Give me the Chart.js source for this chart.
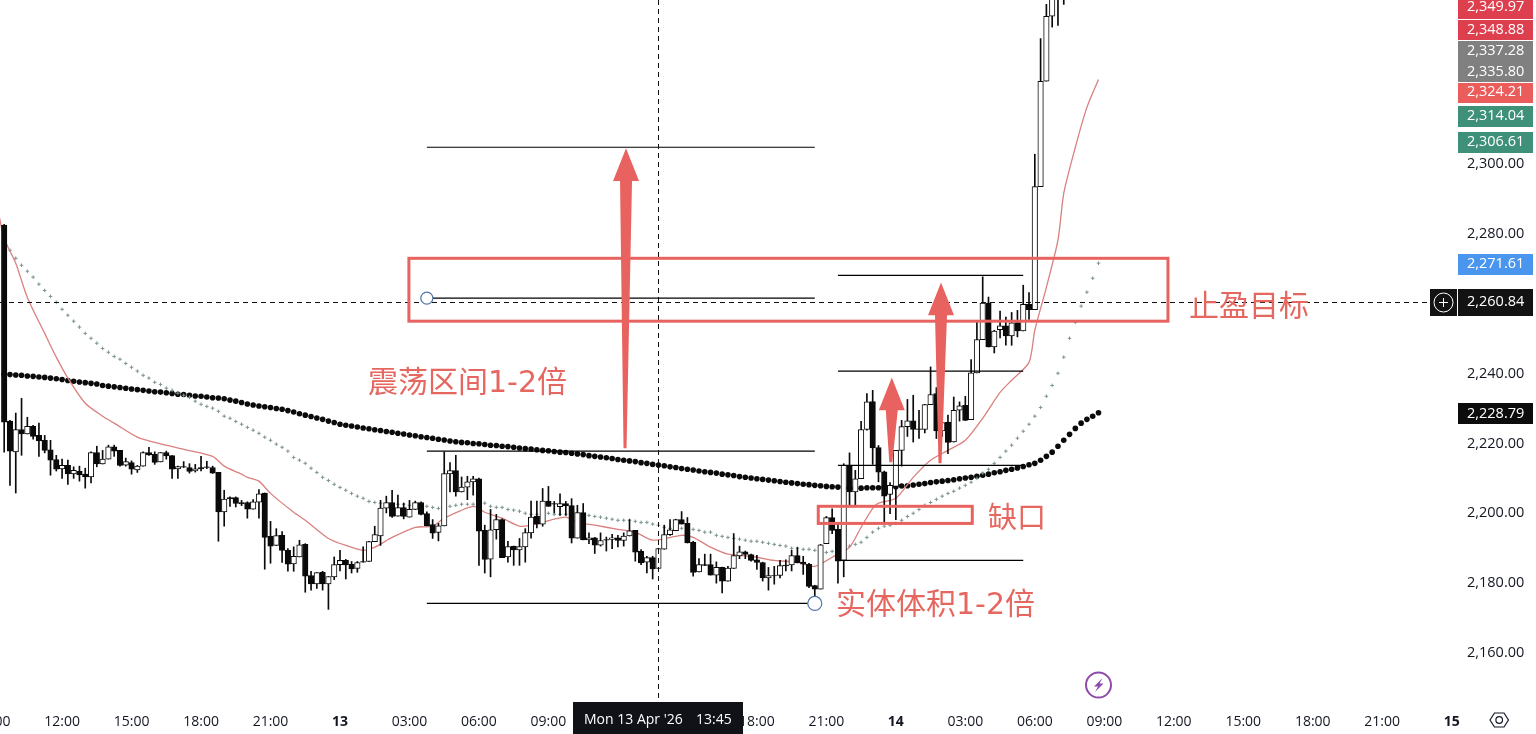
<!DOCTYPE html>
<html>
<head>
<meta charset="utf-8">
<title>ETH 15m</title>
<script src="https://cdn.jsdelivr.net/npm/chart.js@4.4.1/dist/chart.umd.min.js"></script>
<style>
  html, body { margin: 0; padding: 0; background: #fff; overflow: hidden; width: 1536px; height: 734px; }
  #wrap { position: absolute; left: -40px; top: 0; width: 1576px; height: 734px; }
</style>
</head>
<body>
<div id="wrap"><canvas id="chart" width="1576" height="734"></canvas></div>
<script>
// candles are numbered from 13 Apr 00:00, one step = 15 min
const firstCandle = -58;
const opens = [
  2282.5,2226.4,2217.6,2224.0,2222.7,2224.9,2222.3,2220.9,2218.2,2215.4,
  2212.7,2213.7,2211.3,2212.0,2211.2,2210.4,2217.4,2214.1,2215.5,2219.0,
  2218.0,2213.8,2214.5,2212.4,2213.5,2217.4,2216.9,2214.7,2217.4,2216.5,
  2212.7,2213.4,2213.1,2212.1,2213.1,2213.3,2213.1,2211.7,2200.4,2204.5,
  2204.5,2203.1,2203.1,2201.2,2203.2,2205.8,2193.4,2190.8,2193.7,2189.4,
  2185.5,2187.5,2191.1,2182.2,2179.8,2183.1,2179.8,2181.8,2185.3,2186.5,
  2185.4,2184.2,2186.2,2186.2,2191.9,2193.5,2201.5,2203.1,2199.2,2201.6,
  2198.9,2201.1,2203.1,2199.9,2196.8,2194.5,2196.4,2211.3,2212.2,2206.1,
  2207.5,2209.0,2209.9,2195.1,2186.9,2195.3,2198.2,2187.5,2190.6,2189.5,
  2190.4,2194.4,2199.1,2196.9,2203.5,2202.8,2201.9,2202.8,2202.2,2192.9,
  2200.2,2192.4,2193.0,2190.9,2192.5,2192.5,2193.0,2192.2,2193.5,2195.1,
  2189.1,2186.0,2187.3,2184.2,2189.7,2193.9,2195.0,2198.2,2197.1,2191.7,
  2183.2,2185.3,2185.3,2182.3,2184.5,2180.6,2184.2,2187.8,2189.0,2188.2,
  2186.7,2185.9,2181.5,2182.2,2182.2,2185.2,2185.2,2187.9,2186.0,2185.4,
  2179.3,2178.3,2191.3,2198.8,2195.4,2186.5,2213.7,2206.1,2209.9,2224.0,
  2232.0,2218.8,2211.9,2205.4,2207.7,2218.0,2224.8,2226.5,2224.2,2224.0,
  2231.1,2234.3,2223.6,2226.1,2220.4,2229.5,2230.9,2226.8,2240.2,2249.7,
  2260.2,2247.6,2252.6,2253.7,2250.8,2254.6,2252.2,2259.8,2258.3,2293.5,
  2323.7,2342.3,2348.0,2350.0
];
const closes = [
  2226.1,2217.8,2224.0,2222.7,2224.9,2222.0,2220.7,2218.0,2215.2,2212.6,
  2213.7,2211.3,2212.3,2211.0,2210.4,2217.4,2214.1,2215.5,2219.0,2217.8,
  2213.7,2214.8,2212.6,2213.5,2217.4,2216.7,2214.6,2217.4,2216.4,2212.6,
  2213.4,2213.2,2212.0,2212.7,2212.7,2213.1,2211.5,2200.4,2204.1,2204.1,
  2202.8,2202.7,2201.2,2203.3,2205.6,2193.1,2190.6,2193.6,2189.4,2185.4,
  2187.7,2191.0,2182.0,2179.8,2183.0,2179.8,2181.9,2185.3,2186.5,2185.2,
  2184.1,2185.9,2186.0,2191.9,2193.9,2201.5,2203.1,2199.1,2201.6,2199.1,
  2201.1,2203.1,2199.7,2196.4,2194.3,2196.4,2211.4,2212.2,2206.1,2207.5,
  2209.0,2209.9,2194.9,2186.8,2195.3,2198.2,2187.3,2190.5,2189.5,2190.5,
  2194.5,2198.9,2196.9,2203.5,2202.0,2202.6,2202.8,2202.1,2192.9,2200.2,
  2192.4,2193.0,2190.9,2192.2,2192.3,2193.0,2192.2,2193.5,2195.0,2188.9,
  2185.8,2187.3,2184.1,2189.9,2193.9,2195.3,2198.2,2196.9,2191.5,2183.1,
  2185.3,2185.1,2182.3,2184.5,2180.6,2184.3,2187.9,2189.0,2188.2,2186.5,
  2185.9,2181.5,2182.2,2182.1,2185.0,2184.9,2187.9,2185.8,2185.4,2179.1,
  2178.3,2191.0,2198.8,2195.1,2186.3,2213.7,2206.1,2209.9,2224.0,2231.9,
  2218.7,2211.8,2204.9,2208.0,2218.0,2224.8,2226.5,2224.0,2224.0,2231.1,
  2234.0,2223.6,2226.0,2220.3,2229.5,2230.8,2226.6,2240.2,2249.7,2260.2,
  2247.6,2252.2,2253.7,2250.8,2254.5,2252.2,2259.8,2258.3,2293.5,2323.7,
  2342.3,2350.0,2352.0,2352.0
];
const highs = [
  2282.7,2226.6,2228.7,2232.9,2227.5,2225.2,2225.8,2222.3,2220.9,2216.6,
  2215.5,2215.2,2213.3,2213.5,2212.9,2217.6,2219.2,2218.0,2219.5,2219.5,
  2218.0,2215.8,2215.0,2213.7,2217.6,2218.9,2217.6,2217.4,2217.8,2216.5,
  2213.5,2214.8,2214.2,2214.0,2216.3,2214.9,2213.5,2211.7,2206.6,2204.7,
  2204.7,2203.7,2203.3,2203.9,2206.8,2205.8,2197.7,2195.6,2194.8,2189.9,
  2190.4,2192.3,2191.3,2183.4,2183.0,2183.4,2181.9,2187.5,2189.4,2186.8,
  2186.2,2186.2,2190.4,2192.0,2196.3,2203.7,2204.9,2206.6,2205.2,2202.9,
  2203.7,2203.5,2203.3,2200.4,2198.2,2197.1,2217.6,2214.5,2216.6,2210.4,
  2210.6,2210.6,2210.1,2196.6,2201.1,2199.7,2198.4,2192.0,2190.6,2192.8,
  2195.6,2203.5,2203.5,2207.1,2207.7,2203.4,2205.6,2203.4,2204.2,2202.3,
  2202.8,2194.4,2193.1,2194.4,2193.2,2194.0,2193.7,2194.4,2198.2,2195.1,
  2189.6,2187.7,2187.7,2190.0,2196.6,2198.2,2198.3,2200.5,2198.8,2192.0,
  2187.0,2188.3,2188.3,2186.1,2184.6,2184.8,2194.2,2190.6,2189.2,2188.3,
  2188.0,2186.0,2184.5,2184.8,2186.5,2186.7,2189.4,2190.2,2187.7,2185.7,
  2179.4,2191.1,2199.1,2201.3,2197.1,2214.2,2217.3,2212.3,2226.3,2234.3,
  2235.2,2219.4,2212.1,2208.8,2218.0,2226.6,2232.6,2233.8,2229.5,2231.2,
  2241.9,2236.0,2227.0,2228.1,2233.3,2231.9,2233.5,2244.0,2254.8,2267.7,
  2261.9,2252.4,2257.9,2256.2,2257.5,2258.1,2265.3,2263.2,2302.8,2335.9,
  2345.7,2352.0,2355.0,2353.0
];
const lows = [
  2217.5,2208.0,2205.8,2216.6,2222.7,2221.2,2216.3,2217.3,2210.9,2212.1,
  2210.0,2208.3,2210.0,2209.2,2207.2,2208.7,2213.3,2214.1,2215.5,2216.3,
  2213.5,2213.5,2211.2,2211.7,2213.5,2216.6,2214.0,2214.7,2215.5,2210.0,
  2210.0,2213.1,2211.5,2211.8,2212.1,2212.8,2211.4,2192.0,2196.3,2202.0,
  2201.8,2202.2,2198.6,2201.2,2198.6,2184.0,2185.7,2190.8,2185.9,2183.4,
  2183.4,2187.5,2177.4,2178.0,2178.5,2178.0,2172.5,2181.0,2183.5,2181.2,
  2182.9,2183.1,2186.0,2186.2,2191.9,2190.8,2200.1,2198.8,2199.2,2198.4,
  2198.9,2201.1,2199.5,2196.4,2192.8,2192.1,2196.4,2206.1,2204.9,2206.1,
  2203.9,2205.2,2185.1,2182.9,2181.8,2192.6,2187.3,2186.0,2185.1,2185.1,
  2186.0,2192.9,2195.8,2196.3,2202.0,2200.1,2199.4,2199.4,2191.5,2192.9,
  2192.4,2191.3,2188.5,2190.6,2189.2,2189.9,2190.4,2190.6,2193.5,2186.3,
  2185.3,2182.9,2181.2,2184.2,2189.7,2193.7,2195.0,2196.9,2191.5,2182.0,
  2183.2,2185.0,2182.3,2180.0,2177.2,2180.6,2184.2,2187.0,2187.0,2186.3,
  2183.9,2180.6,2178.0,2179.7,2181.5,2183.5,2183.5,2185.8,2182.5,2178.7,
  2176.2,2178.3,2191.3,2194.2,2180.0,2181.8,2202.3,2202.3,2209.9,2223.8,
  2214.0,2209.0,2197.5,2199.9,2198.2,2213.5,2222.0,2220.4,2221.4,2223.0,
  2231.1,2221.4,2222.0,2217.1,2220.4,2226.4,2226.6,2226.8,2240.2,2249.7,
  2247.6,2245.9,2250.2,2248.1,2248.1,2250.5,2252.2,2255.5,2258.3,2293.5,
  2323.7,2339.2,2339.7,2345.7
];

// thick black dotted average, one dot per candle, runs on past the last candle
const slowFirst = -58;
const slowMa = [
  2239.8,2239.7,2239.6,2239.5,2239.3,2239.2,2239.0,2238.9,2238.7,2238.5,
  2238.3,2238.0,2237.8,2237.6,2237.4,2237.2,2237.0,2236.6,2236.4,2236.2,
  2236.0,2235.8,2235.6,2235.4,2235.2,2235.0,2234.8,2234.7,2234.5,2234.3,
  2234.1,2234.0,2233.8,2233.6,2233.5,2233.3,2233.1,2233.0,2232.8,2232.4,
  2232.1,2231.7,2231.3,2231.0,2230.7,2230.5,2230.3,2230.0,2229.8,2229.4,
  2229.0,2228.5,2228.1,2227.7,2227.3,2226.9,2226.4,2226.0,2225.5,2225.2,
  2225.0,2224.7,2224.4,2224.2,2223.9,2223.7,2223.4,2223.2,2222.9,2222.7,
  2222.4,2222.2,2221.9,2221.7,2221.5,2221.2,2221.0,2220.7,2220.5,2220.3,
  2220.2,2220.0,2219.9,2219.7,2219.5,2219.4,2219.2,2219.1,2218.9,2218.7,
  2218.5,2218.4,2218.2,2218.0,2217.9,2217.7,2217.5,2217.4,2217.2,2217.0,
  2216.8,2216.5,2216.3,2216.1,2215.9,2215.7,2215.4,2215.2,2215.0,2214.8,
  2214.5,2214.3,2214.0,2213.8,2213.6,2213.3,2213.1,2212.8,2212.6,2212.4,
  2212.1,2211.9,2211.7,2211.5,2211.2,2211.0,2210.8,2210.5,2210.3,2210.1,
  2209.9,2209.7,2209.5,2209.3,2209.1,2208.9,2208.7,2208.5,2208.3,2208.2,
  2208.0,2207.9,2207.7,2207.6,2207.5,2207.3,2207.2,2207.2,2207.2,2207.3,
  2207.3,2207.3,2207.4,2207.4,2207.6,2207.8,2207.9,2208.1,2208.3,2208.5,
  2208.8,2209.0,2209.2,2209.4,2209.6,2209.9,2210.1,2210.3,2210.6,2210.9,
  2211.2,2211.6,2211.9,2212.3,2212.6,2213.0,2213.4,2213.9,2214.3,2215.2,
  2216.3,2217.5,2219.2,2220.9,2222.6,2224.3,2225.8,2226.9,2227.8,2228.79
];

// small grey crosses, one per candle
const midFirst = -57;
const midMa = [
  2275.3,2273.0,2271.0,2269.3,2267.6,2265.6,2263.8,2262.1,2260.4,2258.4,
  2256.7,2255.0,2253.3,2251.5,2250.1,2248.7,2247.2,2246.1,2244.9,2244.1,
  2242.9,2241.8,2240.7,2239.5,2238.7,2237.5,2236.9,2235.8,2235.2,2234.4,
  2233.8,2233.2,2232.1,2231.2,2230.6,2230.1,2229.2,2227.8,2227.2,2226.3,
  2225.5,2224.6,2223.8,2222.9,2221.8,2220.9,2219.8,2218.9,2217.8,2216.0,
  2215.2,2214.3,2212.9,2211.7,2210.3,2209.4,2208.3,2207.4,2206.6,2205.7,
  2204.9,2204.3,2203.4,2203.1,2202.9,2202.6,2202.6,2202.6,2202.6,2202.3,
  2202.3,2202.3,2202.0,2201.7,2201.4,2201.7,2202.0,2202.3,2202.6,2202.6,
  2202.6,2202.9,2202.9,2202.0,2201.7,2201.7,2201.1,2200.9,2200.6,2200.0,
  2199.7,2199.7,2199.7,2200.0,2199.7,2199.7,2199.7,2199.7,2199.7,2199.4,
  2199.4,2199.1,2198.9,2198.6,2198.3,2198.0,2198.0,2198.0,2197.7,2197.4,
  2197.4,2196.9,2196.6,2196.0,2195.7,2195.7,2195.7,2195.5,2195.4,2195.1,
  2194.6,2194.6,2193.7,2193.4,2193.1,2192.8,2192.6,2192.3,2192.0,2192.0,
  2191.7,2191.4,2191.1,2190.8,2190.6,2190.0,2190.0,2189.7,2189.7,2189.4,
  2189.1,2188.8,2189.1,2189.4,2190.0,2190.6,2191.1,2191.7,2193.1,2194.6,
  2195.7,2196.3,2196.6,2197.1,2198.0,2199.1,2200.0,2201.1,2202.3,2203.1,
  2204.0,2204.9,2205.7,2206.3,2207.2,2208.0,2208.9,2210.0,2211.5,2212.6,
  2214.3,2216.0,2217.8,2219.5,2221.5,2223.5,2225.5,2227.8,2230.3,2233.5,
  2236.6,2240.1,2244.7,2250.1,2254.7,2259.3,2263.3,2267.3,2271.61
];

// thin red average, read at these candles only
const fastAt = [
  -59,-58,-56,-54,-51,-49,-47,-44,-41,-39,-35,-32,-27,-22,-20,-17,-16,-14,-12,-8,
  -6,-2,1,4,6,9,13,16,18,23,25,28,31,33,37,39,41,44,48,51,
  54,59,61,64,67,71,75,79,82,85,88,90,92,93,96,99,102,105,108,111,
  114,116,119,120,122,124,125,127,129,131
];
const fastMa = [
  2286.2,2278.7,2271.6,2261.8,2251.5,2244.7,2238.7,2231.5,2227.8,2225.8,2221.8,2220.3,2218.3,2216.3,2213.5,2211.2,2210.3,2209.2,2205.7,2200.3,
  2198.0,2192.8,2190.8,2189.4,2190.3,2193.1,2196.0,2196.3,2198.6,2202.0,2200.3,2198.6,2196.3,2196.6,2198.3,2198.9,2197.4,2196.6,2195.4,2194.6,
  2192.3,2193.7,2193.1,2190.3,2188.3,2187.7,2186.5,2186.0,2184.8,2187.4,2190.3,2196.0,2201.4,2202.9,2204.3,2210.3,2215.2,2218.0,2220.9,2227.2,
  2234.6,2238.1,2243.2,2252.4,2264.7,2278.2,2291.6,2304.8,2316.2,2324.21
];

// drawn levels: [from candle, to candle, price]
const drawnLevels = [
  [15, 82, 2304.8], [15, 82, 2261.6], [15, 82, 2217.8], [15, 82, 2174.2],
  [86, 118, 2268.1], [86, 118, 2240.7], [86, 118, 2213.7], [86, 118, 2186.5]
];
const crossCandle = 55;
const crossPrice = 2260.4;

// [from candle, price, to candle, price]
const redBoxes = [[11.9, 2273.0, 143.0, 2255.0], [82.6, 2202.0, 109.2, 2197.1]];
// [candle, tip price, neck price, tail price]
const redArrows = [
  [49.4, 2304.5, 2295.1, 2218.6],
  [103.8, 2266.1, 2256.7, 2214.3],
  [95.3, 2238.9, 2229.5, 2214.6]
];
const handles = [[15, 2261.6, 6], [82, 2174.2, 7]];

const noteTexts = [
  ["止盈目标", 1189, 308, 30],
  ["震荡区间1-2倍", 368, 384, 30],
  ["缺口", 988, 520, 29],
  ["实体体积1-2倍", 836, 606, 30]
];
// text, centre y, top, bottom, colour
const priceBadges = [
  ["2,349.97", 7, 0, 19, "#dd3f4e"],
  ["2,348.88", 29.5, 20, 40, "#dd3f4e"],
  ["2,337.28", 51, 41, 61, "#808080"],
  ["2,335.80", 71.5, 61, 82, "#808080"],
  ["2,324.21", 92, 83, 103, "#ea5d5b"],
  ["2,314.04", 116, 106, 127, "#3f9079"],
  ["2,306.61", 142, 132, 153, "#3f9079"],
  ["2,271.61", 264, 254, 275, "#4a96ee"],
  ["2,260.84", 302, 289, 316, "#131313"],
  ["2,228.79", 413.5, 403, 424, "#0c0c0c"]
];

const SHIFT = 40; // canvas starts 40px left of the page so the first label gets cut
const INK = "#131722";
const RED = "#e8635f";
const LABEL_FONT = '"Open Sans", sans-serif';

const candleKeys = opens.map((_, i) => firstCandle + i);
const wickData = candleKeys.map((k, i) => ({ x: k, y: [lows[i], highs[i]] }));
const bodyData = candleKeys.map((k, i) => ({ x: k, y: [opens[i], closes[i]] }));
const bodyColors = opens.map((o, i) => (closes[i] < o ? "#0a0a0a" : "#ffffff"));

function tickText(k) {
  if (k % 96 === 0) return String(13 + k / 96);
  const h = ((k / 4) % 24 + 24) % 24;
  return String(h).padStart(2, "0") + ":00";
}

function levelDataset(l) {
  return {
    type: "line", order: 0,
    data: [{ x: l[0], y: l[2] }, { x: l[1], y: l[2] }],
    borderColor: "#000", borderWidth: 1.2, pointRadius: 0
  };
}

const overlays = {
  id: "overlays",
  afterDatasetsDraw(chart) {
    const c = chart.ctx, x = chart.scales.x, y = chart.scales.y;
    const area = chart.chartArea;
    c.save();

    // crosshair
    c.strokeStyle = "#111";
    c.lineWidth = 1;
    c.setLineDash([5, 4]);
    const cx = Math.round(x.getPixelForValue(crossCandle)) + 0.5;
    const cy = Math.round(y.getPixelForValue(crossPrice)) + 0.5;
    c.beginPath();
    c.moveTo(cx, 0); c.lineTo(cx, area.bottom);
    c.moveTo(SHIFT, cy); c.lineTo(1430 + SHIFT, cy);
    c.stroke();
    c.setLineDash([]);

    // red boxes
    c.strokeStyle = RED;
    c.lineWidth = 3;
    redBoxes.forEach((b) => {
      const x0 = x.getPixelForValue(b[0]), x1 = x.getPixelForValue(b[2]);
      const y0 = y.getPixelForValue(b[1]), y1 = y.getPixelForValue(b[3]);
      c.strokeRect(x0, y0, x1 - x0, y1 - y0);
    });

    // red arrows
    c.fillStyle = RED;
    redArrows.forEach((a) => {
      const ax = x.getPixelForValue(a[0]);
      const tip = y.getPixelForValue(a[1]);
      const neck = y.getPixelForValue(a[2]);
      const tail = y.getPixelForValue(a[3]);
      c.beginPath();
      c.moveTo(ax, tip);
      c.lineTo(ax + 13, neck);
      c.lineTo(ax + 6, neck);
      c.lineTo(ax + 0.5, tail);
      c.lineTo(ax - 2.5, tail);
      c.lineTo(ax - 6, neck);
      c.lineTo(ax - 13, neck);
      c.closePath();
      c.fill();
    });

    // tool handles
    c.fillStyle = "#fff";
    c.strokeStyle = "#4f74a8";
    c.lineWidth = 1.2;
    handles.forEach((h) => {
      c.beginPath();
      c.arc(x.getPixelForValue(h[0]), y.getPixelForValue(h[1]), h[2], 0, Math.PI * 2);
      c.fill();
      c.stroke();
    });

    // notes
    c.fillStyle = "#e5675f";
    c.textBaseline = "middle";
    c.textAlign = "left";
    noteTexts.forEach((n) => {
      c.font = n[3] + 'px "DejaVu Sans", "Noto Sans CJK SC", sans-serif';
      c.fillText(n[0], n[1] + SHIFT, n[2]);
    });
    c.restore();
  },
  afterDraw(chart) {
    const c = chart.ctx;
    c.save();
    c.translate(SHIFT, 0);

    // price badges
    c.textBaseline = "middle";
    c.textAlign = "left";
    c.font = "14.5px " + LABEL_FONT;
    priceBadges.forEach((b) => {
      c.fillStyle = b[4];
      c.fillRect(1458, b[2], 75, b[3] - b[2]);
      c.fillStyle = "#fff";
      c.fillText(b[0], 1467, b[1]);
    });

    // + button next to the crosshair price
    c.fillStyle = "#131313";
    c.fillRect(1430, 289, 27, 27);
    c.strokeStyle = "#fff";
    c.lineWidth = 1;
    c.beginPath();
    c.arc(1443.5, 302.5, 9.5, 0, Math.PI * 2);
    c.moveTo(1439, 302.5); c.lineTo(1448, 302.5);
    c.moveTo(1443.5, 298); c.lineTo(1443.5, 307);
    c.stroke();

    // date badge on the time axis
    c.fillStyle = "#101218";
    c.fillRect(573, 702, 170, 32);
    c.fillStyle = "#fff";
    c.font = "14px " + LABEL_FONT;
    c.fillText("Mon 13 Apr '26", 584, 720);
    c.fillText("13:45", 696, 720);

    // purple bolt
    c.strokeStyle = "#8e4ba8";
    c.lineWidth = 2;
    c.beginPath();
    c.arc(1098.5, 685, 12.5, 0, Math.PI * 2);
    c.stroke();
    c.fillStyle = "#8e4ba8";
    c.beginPath();
    c.moveTo(1102.5, 678);
    c.lineTo(1094, 686.5);
    c.lineTo(1098, 686.5);
    c.lineTo(1095, 692);
    c.lineTo(1103.5, 683.5);
    c.lineTo(1099.5, 683.5);
    c.closePath();
    c.fill();

    // settings hexagon
    c.strokeStyle = INK;
    c.lineWidth = 1.2;
    c.beginPath();
    c.moveTo(1490, 720); c.lineTo(1494.5, 713); c.lineTo(1504, 713);
    c.lineTo(1508.5, 720); c.lineTo(1504, 727); c.lineTo(1494.5, 727);
    c.closePath();
    c.moveTo(1502.5, 720);
    c.arc(1499.2, 720, 3.3, 0, Math.PI * 2);
    c.stroke();
    c.restore();
  }
};

new Chart(document.getElementById("chart"), {
  type: "bar",
  plugins: [overlays],
  data: {
    datasets: [
      {
        order: 1, grouped: false, data: bodyData, barThickness: 5.5,
        backgroundColor: bodyColors, borderColor: "#0a0a0a", borderWidth: 1, borderSkipped: false
      },
      { order: 2, grouped: false, data: wickData, barThickness: 1, backgroundColor: "#0a0a0a" },
      {
        type: "line", order: 3,
        data: fastAt.map((k, i) => ({ x: k, y: fastMa[i] })),
        borderColor: "#d9817f", borderWidth: 1.3, pointRadius: 0, tension: 0.25
      },
      {
        type: "line", order: 4, showLine: false,
        data: midMa.map((v, i) => ({ x: midFirst + i, y: v })),
        pointStyle: "cross", pointRadius: 1.8, pointBorderColor: "#7d958e", pointBorderWidth: 1
      },
      {
        type: "line", order: 5, showLine: false,
        data: slowMa.map((v, i) => ({ x: slowFirst + i, y: v })),
        pointRadius: 2.8, pointBackgroundColor: "#0a0a0a", pointBorderWidth: 0
      },
      ...drawnLevels.map(levelDataset)
    ]
  },
  options: {
    responsive: false,
    animation: false,
    devicePixelRatio: 1,
    layout: { padding: 0, autoPadding: false },
    plugins: { legend: { display: false }, tooltip: { enabled: false } },
    scales: {
      x: {
        type: "linear",
        offset: false,
        min: -65.63,
        max: 193.09,
        afterFit: (s) => { s.height = 28; s.paddingLeft = 0; s.paddingRight = 0; },
        grid: { display: false },
        border: { display: false },
        ticks: {
          stepSize: 12,
          includeBounds: false,
          autoSkip: false,
          maxRotation: 0,
          padding: 0,
          color: INK,
          font: (ctx) => ({
            family: LABEL_FONT, size: 14,
            weight: ctx.tick && ctx.tick.value % 96 === 0 ? "bold" : "normal"
          }),
          callback: tickText
        }
      },
      y: {
        position: "right",
        min: 2144.83,
        max: 2346.95,
        afterFit: (s) => { s.width = 78; s.paddingTop = 0; s.paddingBottom = 0; },
        grid: { display: false, drawTicks: false },
        border: { display: false },
        ticks: {
          stepSize: 20,
          includeBounds: false,
          padding: 9,
          color: INK,
          font: { family: LABEL_FONT, size: 14.5 },
          callback: (v) => (v === 2260 || v > 2300 ? "" : v.toLocaleString("en-US", { minimumFractionDigits: 2 }))
        }
      }
    }
  }
});
</script>
</body>
</html>
